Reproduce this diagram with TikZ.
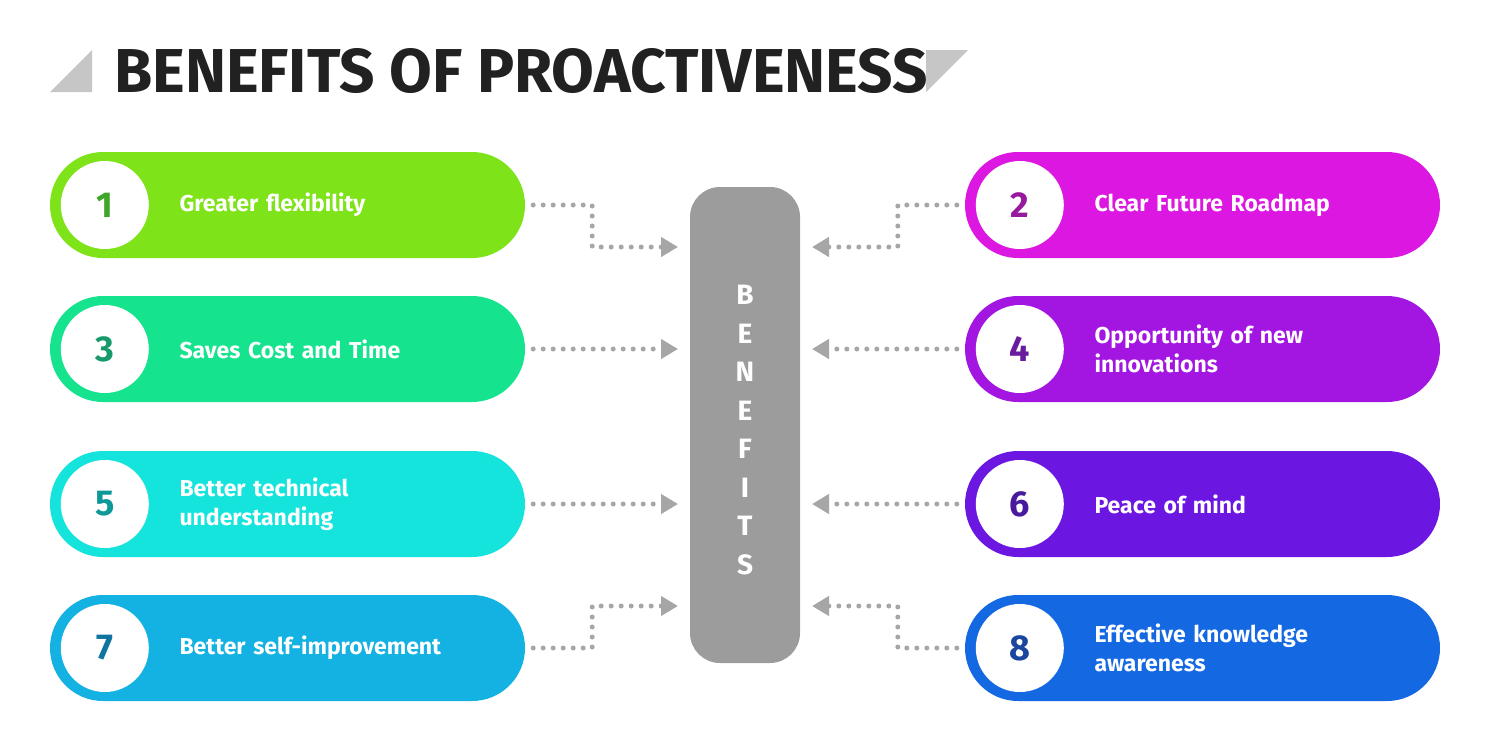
\documentclass[tikz,border=0pt]{standalone}
\usepackage{fontspec}
\setmainfont{Fira Sans}
\usetikzlibrary{arrows.meta, positioning, calc}
\definecolor{cA}{HTML}{7EE319}\definecolor{nA}{HTML}{3FA62A}
\definecolor{cB}{HTML}{DD17E2}\definecolor{nB}{HTML}{971A9E}
\definecolor{cC}{HTML}{16E38E}\definecolor{nC}{HTML}{169A69}
\definecolor{cD}{HTML}{A316E2}\definecolor{nD}{HTML}{6A1A9E}
\definecolor{cE}{HTML}{15E4DD}\definecolor{nE}{HTML}{0F9898}
\definecolor{cF}{HTML}{6C16E2}\definecolor{nF}{HTML}{471A9E}
\definecolor{cG}{HTML}{14B1E3}\definecolor{nG}{HTML}{0F75A0}
\definecolor{cH}{HTML}{1469E3}\definecolor{nH}{HTML}{1A469E}
\definecolor{dotgray}{HTML}{A6A6A6}
\tikzset{
  pill/.style={rectangle, rounded corners=53pt, minimum width=475pt, minimum height=106pt, inner sep=0pt},
  num/.style={circle, fill=white, minimum size=88pt, inner sep=0pt, font=\bfseries\fontsize{36}{36}\selectfont},
  label/.style={anchor=west, text=white, text width=300pt, align=left, font=\bfseries\fontsize{23}{29}\selectfont},
  link/.style={dotgray, line width=5pt, line cap=round, dash pattern=on 0pt off 10pt, shorten <=8pt,
    -{Triangle[length=17pt,width=19pt,line cap=butt]}}
}
\newcommand{\benefit}[6]{% name, x, y, colour, number colour, number / text
  \node[pill, fill=#4] (#1) at (#2,#3) {};
  \node[num, text=#5] (#1n) at ($(#1.west)+(55pt,0)$) {#6};
}
\begin{document}
\begin{tikzpicture}[x=1pt, y=-1pt]
  \useasboundingbox (0,0) rectangle (1490,750);
  % title
  \fill[gray!45] (50,92) -- (92,50) -- (92,92) -- cycle;
  \fill[gray!45] (926,50) -- (968,50) -- (926,92) -- cycle;
  \node[anchor=base west, inner sep=0pt, text=black!87, font=\bfseries\fontsize{62}{62}\selectfont] (title) at (114,92) {BENEFITS OF PROACTIVENESS};
  % centre bar
  \node[rectangle, rounded corners=30pt, fill=gray!75!white!98!black, fill=black!39, minimum width=110pt, minimum height=476pt] (bar) at (745,425) {};
  \node[text=white, align=center, font=\bfseries\fontsize{28}{38.5}\selectfont] (word) at (745,430) {B\\E\\N\\E\\F\\I\\T\\S};
  % benefits
  \benefit{p1}{287.5}{205}{cA}{nA}{1}
  \benefit{p2}{1202.5}{205}{cB}{nB}{2}
  \benefit{p3}{287.5}{349}{cC}{nC}{3}
  \benefit{p4}{1202.5}{349}{cD}{nD}{4}
  \benefit{p5}{287.5}{504}{cE}{nE}{5}
  \benefit{p6}{1202.5}{504}{cF}{nF}{6}
  \benefit{p7}{287.5}{648}{cG}{nG}{7}
  \benefit{p8}{1202.5}{648}{cH}{nH}{8}
  \node[label] (t1) at (176,205) {Greater flexibility};
  \node[label] (t2) at (1091,205) {Clear Future Roadmap};
  \node[label] (t3) at (176,349) {Saves Cost and Time};
  \node[label] (t4) at (1091,349) {Opportunity of new\\innovations};
  \node[label] (t5) at (176,504) {Better technical\\understanding};
  \node[label] (t6) at (1091,504) {Peace of mind};
  \node[label] (t7) at (176,648) {Better self-improvement};
  \node[label] (t8) at (1091,648) {Effective knowledge\\awareness};
  % connectors
  \coordinate (b1) at (678,247);
  \coordinate (b2) at (812,247);
  \coordinate (b3) at (678,349);
  \coordinate (b4) at (812,349);
  \coordinate (b5) at (678,504);
  \coordinate (b6) at (812,504);
  \coordinate (b7) at (678,606);
  \coordinate (b8) at (812,606);
  \draw[link] (p1.east) -- ++(67,0) |- (b1);
  \draw[link] (p2.west) -- ++(-67,0) |- (b2);
  \draw[link] (p3.east) -- (b3);
  \draw[link] (p4.west) -- (b4);
  \draw[link] (p5.east) -- (b5);
  \draw[link] (p6.west) -- (b6);
  \draw[link] (p7.east) -- ++(67,0) |- (b7);
  \draw[link] (p8.west) -- ++(-67,0) |- (b8);
\end{tikzpicture}
\end{document}
